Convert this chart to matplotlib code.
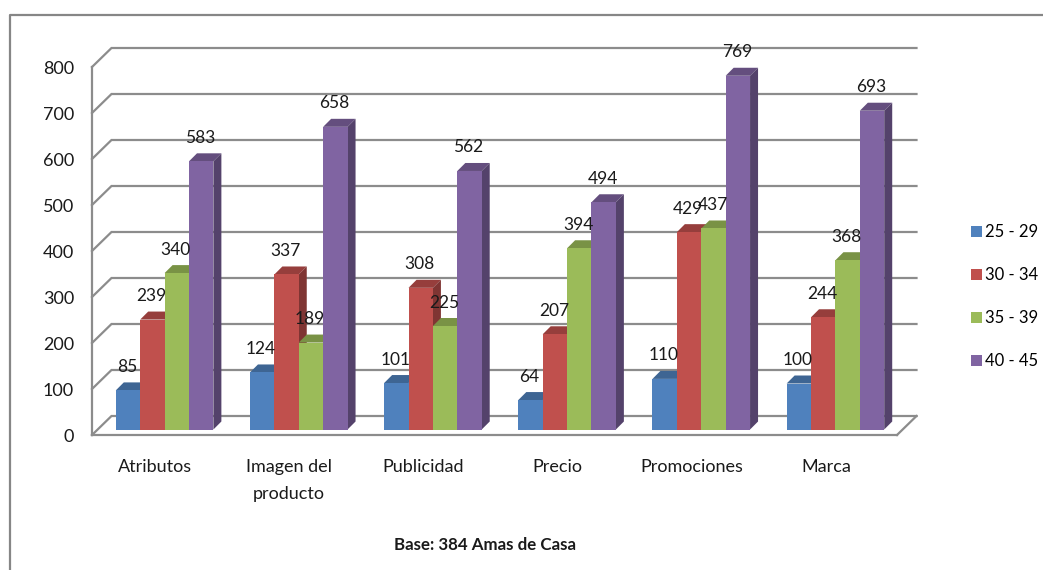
#!/usr/bin/env python3
"""Grouped bars with a drawn-on 3D look: age bands per product attribute."""
import matplotlib
matplotlib.use("Agg")
import matplotlib.pyplot as plt
from matplotlib.colors import to_rgb
from matplotlib.lines import Line2D
from matplotlib.patches import Patch
import numpy as np

categories = ["Atributos", "Imagen del\nproducto", "Publicidad", "Precio", "Promociones", "Marca"]
age_bands = ["25 - 29", "30 - 34", "35 - 39", "40 - 45"]
band_25_29 = [85, 124, 101, 64, 110, 100]
band_30_34 = [239, 337, 308, 207, 429, 244]
band_35_39 = [340, 189, 225, 394, 437, 368]
band_40_45 = [583, 658, 562, 494, 769, 693]
y_ticks = [0, 100, 200, 300, 400, 500, 600, 700, 800]

COLORS = ["#4F81BD", "#C0504D", "#9BBB59", "#8064A2"]
GREY = "#8C8C8C"
INK = "#1a1a1a"
W, H = 1043, 570
FONT_SIZE = 13

plt.rcParams["font.family"] = "Lato"

fig = plt.figure(figsize=(W / 100, H / 100), dpi=100, facecolor="white")

# plot box in pixels: front floor edge and front wall
left, right, floor, top = 92, 897, 435, 67
ax = fig.add_axes([left / W, 1 - floor / H, (right - left) / W, (floor - top) / H])
ax.set_xlim(0, len(categories))
ax.set_ylim(0, 800)
ax.patch.set_alpha(0)

px_x = len(categories) / (right - left)
px_y = 800 / (floor - top)


def shade(color, factor):
    return tuple(c * factor for c in to_rgb(color))


# walls and gridlines
wall_dx, wall_dy = 19.5 * px_x, 19 * px_y
for t in y_ticks:
    ax.plot([0, wall_dx, len(categories) + wall_dx], [t, t + wall_dy, t + wall_dy],
            color=GREY, lw=1.6, clip_on=False, zorder=1, solid_joinstyle="miter")
ax.plot([len(categories), len(categories) + wall_dx], [0, wall_dy],
        color=GREY, lw=1.6, clip_on=False, zorder=1)

for name in ("top", "right"):
    ax.spines[name].set_visible(False)
for name in ("left", "bottom"):
    ax.spines[name].set_color(GREY)
    ax.spines[name].set_linewidth(1.6)

# bars sit a little inside the floor
series = [band_25_29, band_30_34, band_35_39, band_40_45]
x = np.arange(len(categories)) + 0.5 + 5.5 * px_x
width = 24.4 * px_x
base = 5.5 * px_y
dx, dy = 8 * px_x, 8 * px_y

z = 3
for i in range(len(categories)):
    for j, values in enumerate(series):
        v = values[i]
        x0 = x[i] + (j - 2) * width
        x1 = x0 + width
        ytop = base + v
        ax.fill([x0, x1, x1 + dx, x0 + dx], [ytop, ytop, ytop + dy, ytop + dy],
                color=shade(COLORS[j], 0.78), lw=0, clip_on=False, zorder=z)
        ax.fill([x1, x1 + dx, x1 + dx, x1], [base, base + dy, ytop + dy, ytop],
                color=shade(COLORS[j], 0.66), lw=0, clip_on=False, zorder=z)
        ax.bar(x0, v, width, bottom=base, align="edge", color=COLORS[j], lw=0,
               clip_on=False, zorder=z)
        ax.annotate(str(v), (x0 + width / 2, ytop), xytext=(-0.7, 23.5 * 0.72),
                    textcoords="offset points", ha="center", va="center",
                    fontsize=12.5, color=INK, zorder=50, annotation_clip=False)
        z += 1

ax.set_yticks(y_ticks)
ax.set_xticks(np.arange(len(categories)) + 0.47)
ax.set_xticklabels(categories, linespacing=1.85)
ax.tick_params(axis="y", length=0, pad=13, labelsize=FONT_SIZE, labelcolor=INK)
ax.tick_params(axis="x", length=0, pad=17.5, labelsize=FONT_SIZE, labelcolor=INK)

handles = [Patch(facecolor=c, label=b) for c, b in zip(COLORS, age_bands)]
fig.legend(handles=handles, loc="upper left", bbox_to_anchor=(971 / W, 1 - 224 / H),
           frameon=False, fontsize=12, handlelength=0.66, handleheight=0.66,
           handletextpad=0.2, labelspacing=1.62, borderpad=0, borderaxespad=0)

fig.text(485 / W, 1 - 545 / H, "Base: 384 Amas de Casa", ha="center", va="center",
         fontsize=12.2, fontweight="bold", color=INK)

# outer chart frame, cut by the image edge on the right and bottom
frame_x = [10 / W, 10 / W, 1]
frame_y = [0, 1 - 15 / H, 1 - 15 / H]
fig.add_artist(Line2D(frame_x, frame_y, color="#868686", lw=1.6, transform=fig.transFigure))

fig.savefig("out.png", dpi=100)
